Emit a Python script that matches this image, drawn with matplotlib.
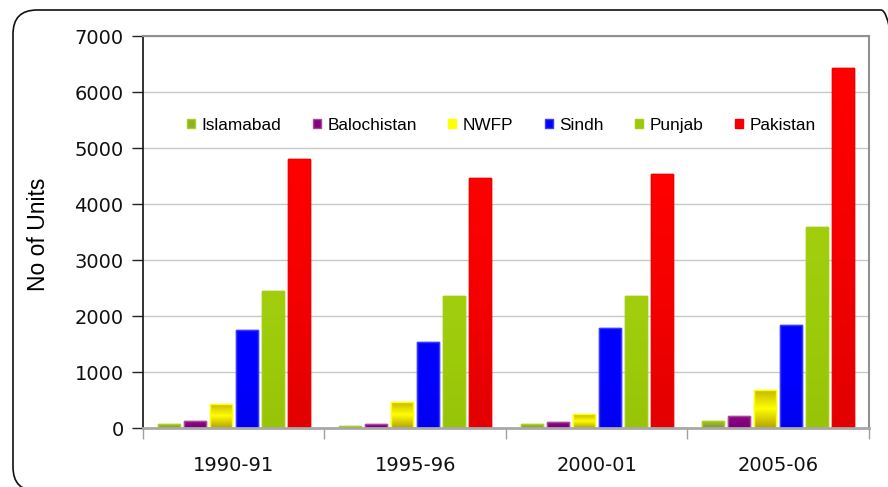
import numpy as np
import matplotlib
matplotlib.use('Agg')
import matplotlib.pyplot as plt
from matplotlib.patches import FancyBboxPatch
from matplotlib.colors import LinearSegmentedColormap

# ---------------------data---------------------
years = ['1990-91', '1995-96', '2000-01', '2005-06']
regions = ['Islamabad', 'Balochistan', 'NWFP', 'Sindh', 'Punjab', 'Pakistan']
islamabad = [70, 35, 70, 125]
balochistan = [125, 70, 105, 215]
nwfp = [430, 465, 250, 680]
sindh = [1750, 1535, 1785, 1840]
punjab = [2445, 2355, 2355, 3590]
pakistan = [4800, 4465, 4535, 6430]

series = [islamabad, balochistan, nwfp, sindh, punjab, pakistan]

# face gradient (top, middle, bottom) and edge colour per region
grad = {
    'Islamabad': ['#9DC21C', '#93AE2A', '#848C3C'],
    'Balochistan': ['#8E0A86', '#860080', '#7A0078'],
    'NWFP': ['#C4B400', '#FFFF00', '#B4A400'],
    'Sindh': ['#0000FF', '#0000FF', '#0000F0'],
    'Punjab': ['#A2CE0E', '#9CCB0A', '#98C408'],
    'Pakistan': ['#FF0000', '#F40000', '#E20000'],
}
edges = {
    'Islamabad': '#A6D21A', 'Balochistan': '#A84A96', 'NWFP': '#FFFF00',
    'Sindh': '#3A3AFF', 'Punjab': '#A2CE0E', 'Pakistan': '#F00000',
}

fig = plt.figure(figsize=(8.88, 4.87), dpi=100)
ax = fig.add_axes([0.161, 0.1211, 0.8176, 0.8049])

# rounded frame round the whole chart
frame = FancyBboxPatch((0.13, -0.04), 8.92, 4.81, boxstyle='round,pad=0,rounding_size=0.24',
                       transform=fig.dpi_scale_trans, facecolor='none', edgecolor='#111111',
                       linewidth=1.2, zorder=0)
fig.patches.append(frame)

x = np.arange(len(years))
pitch = 0.1433
width = 0.121

for i, (name, vals) in enumerate(zip(regions, series)):
    pos = x + (i - 2.5) * pitch
    bars = ax.bar(pos, vals, width, color=grad[name][1], edgecolor=edges[name],
                  linewidth=1.0, label=name, zorder=2)
    cmap = LinearSegmentedColormap.from_list(name, grad[name][::-1])
    g = np.linspace(0, 1, 64).reshape(-1, 1)
    for b in bars:
        x0, y0 = b.get_x(), b.get_y()
        im = ax.imshow(g, cmap=cmap, origin='lower', aspect='auto', zorder=2.1,
                       extent=(x0, x0 + b.get_width(), y0, y0 + b.get_height()))
        im.set_clip_path(b)
        # redraw the border on top of the gradient
        ax.bar(b.get_x() + b.get_width() / 2, b.get_height(), b.get_width(),
               color='none', edgecolor=edges[name], linewidth=1.0, zorder=2.2)

ax.set_xlim(-0.5, 3.5)
ax.set_ylim(0, 7000)
ax.set_yticks(range(0, 7001, 1000))
ax.set_xticks(x)
ax.set_xticklabels(years)
ax.set_xticks(np.arange(-0.5, 3.6, 1), minor=True)
ax.tick_params(axis='x', which='major', length=0, pad=20, labelsize=14)
ax.tick_params(axis='x', which='minor', length=8, width=1, color='#A0A0A0', direction='out')
ax.tick_params(axis='y', length=8, width=1, color='#222222', labelsize=14, pad=6)
for lab in ax.get_xticklabels() + ax.get_yticklabels():
    lab.set_family('DejaVu Sans')
    lab.set_color('#111111')

ax.yaxis.grid(True, color='#C8C8C8', linewidth=1.0, zorder=0)
ax.set_axisbelow(True)

ax.spines['left'].set_color('#222222')
ax.spines['left'].set_linewidth(1.3)
ax.spines['bottom'].set_color('#A8A8A8')
ax.spines['bottom'].set_linewidth(2)
ax.spines['top'].set_color('#909090')
ax.spines['top'].set_linewidth(1.5)
ax.spines['right'].set_color('#909090')
ax.spines['right'].set_linewidth(1.5)

ax.set_ylabel('No of Units', fontsize=16.5, family='Liberation Sans')
ax.yaxis.set_label_coords(-0.128, 0.495)

handles, labels = ax.get_legend_handles_labels()
ax.legend(handles[:6], labels[:6], loc='center left', bbox_to_anchor=(0.049, 0.773),
          ncol=6, frameon=False, borderpad=0, handlelength=0.45, handleheight=0.45,
          handletextpad=0.4, columnspacing=1.82, prop={'family': 'Liberation Sans', 'size': 12.4})

fig.savefig('out.png', dpi=100)
